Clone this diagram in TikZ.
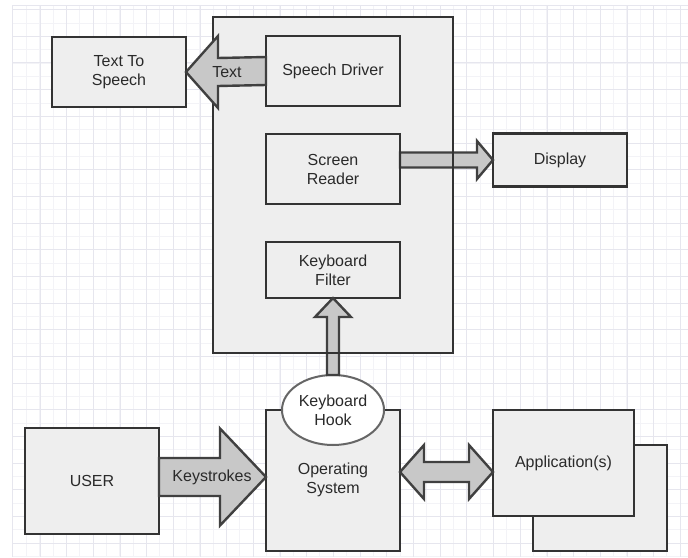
\documentclass[tikz,border=0pt]{standalone}
\usepackage{fontspec}
\setmainfont{Liberation Sans}
\usetikzlibrary{calc,shapes.geometric}
\definecolor{boxfill}{HTML}{EEEEEE}
\definecolor{boxline}{HTML}{333333}
\definecolor{arrfill}{HTML}{C8C8C8}
\definecolor{arrline}{HTML}{404040}
\definecolor{gridc}{HTML}{E6E6EE}
\definecolor{gridm}{HTML}{F3F3F7}
\definecolor{txt}{HTML}{2A2A2A}
\tikzset{
  blk/.style={draw=boxline, fill=boxfill, line width=2.6pt, rectangle, inner sep=0pt, outer sep=0pt,
    text=txt, align=center, font=\fontsize{16}{19}\selectfont},
  blkarrow/.style={draw=arrline, fill=arrfill, line width=2.4pt, line join=miter},
  lbl/.style={text=txt, font=\fontsize{16}{19}\selectfont, inner sep=0pt},
}
\begin{document}
\begin{tikzpicture}[x=1pt,y=-1pt]
\useasboundingbox (0,0) rectangle (688,557);
\fill[white] (0,0) rectangle (688,557);
% grid
\foreach \i in {0,...,50} {
  \pgfmathsetmacro\xx{26.3+\i*13.34}
  \ifdim \xx pt<688pt \draw[gridm, line width=0.6pt] (\xx,5) -- (\xx,557); \fi
  \pgfmathsetmacro\yy{22.85+\i*13.34}
  \ifdim \yy pt<557pt \draw[gridm, line width=0.6pt] (12,\yy) -- (688,\yy); \fi
}
\foreach \i in {0,...,25} {
  \pgfmathsetmacro\xx{40+\i*26.68}
  \ifdim \xx pt<688pt \draw[gridc, line width=0.8pt] (\xx,5) -- (\xx,557); \fi
  \pgfmathsetmacro\yy{9.5+\i*26.68}
  \ifdim \yy pt<557pt \draw[gridc, line width=0.8pt] (12,\yy) -- (688,\yy); \fi
}
\draw[gridc, line width=1pt] (12,557) -- (12,5) -- (688,5);

% container
\node[blk, minimum width=240, minimum height=336] (cont) at (333,185) {};
% inner boxes
\node[blk, minimum width=134, minimum height=70] (sd) at (333,71) {Speech Driver};
\node[blk, minimum width=134, minimum height=70] (sr) at (333,169) {Screen\\Reader};
\node[blk, minimum width=134, minimum height=56] (kf) at (333,270) {Keyboard\\Filter};
% outside boxes
\node[blk, minimum width=134, minimum height=70] (tts) at (119,72) {Text To\\Speech};
\node[blk, minimum width=134, minimum height=53] (disp) at (560,160) {Display};
\node[blk, minimum width=134, minimum height=106] (user) at (92,481) {USER};
\node[blk, minimum width=134, minimum height=141] (os) at (333,480.5) {};
\node[lbl, align=center] (ostext) at (333,480) {Operating\\System};
\node[blk, minimum width=134, minimum height=106] (appb) at (600,498) {};
\node[blk, minimum width=141, minimum height=106] (appf) at (563.5,463) {Application(s)};

% Screen reader -> Display arrow
\coordinate (srt) at (disp.west);
\draw[blkarrow] ($(sr.east|-srt)+(0,-7.5)$) -- ($(srt)+(-16,-7.5)$) -- ($(srt)+(-16,-19)$)
  -- (srt) -- ($(srt)+(-16,19)$) -- ($(srt)+(-16,7.5)$) -- ($(sr.east|-srt)+(0,7.5)$) -- cycle;

% Keyboard hook ellipse
\node[ellipse, draw=arrline!80, fill=white, line width=2pt, minimum width=102, minimum height=70,
  inner sep=0pt, outer sep=0pt, align=center, text=txt, font=\fontsize{16}{19}\selectfont] (hook) at (333,410) {Keyboard\\Hook};

% Hook -> Keyboard filter arrow
\draw[blkarrow] ($(hook.north)+(-6,0)$) -- ($(kf.south)+(-6,19)$) -- ($(kf.south)+(-18,19)$)
  -- (kf.south) -- ($(kf.south)+(18,19)$) -- ($(kf.south)+(6,19)$) -- ($(hook.north)+(6,0)$) -- cycle;

% container border on top of crossing arrows
\draw[boxline, line width=2.6pt] (cont.north west) rectangle (cont.south east);
\draw[boxline, line width=2.6pt] (sr.north west) rectangle (sr.south east);

% Speech driver -> Text to Speech arrow
\coordinate (tt) at (tts.east);
\draw[blkarrow] ($(sd.west)+(0,-14)$) -- ($(tt)+(32,-14)$) -- ($(tt)+(32,-36)$) -- (tt)
  -- ($(tt)+(32,36)$) -- ($(tt)+(32,14)$) -- ($(sd.west)+(0,14)$) -- cycle;
\node[lbl] (textlbl) at (227,72) {Text};

% USER -> OS keystrokes arrow
\coordinate (kt) at ($(os.west)+(0,-3.5)$);
\draw[blkarrow] ($(user.east|-kt)+(0,-19)$) -- ($(kt)+(-46,-19)$) -- ($(kt)+(-46,-48.5)$) -- (kt)
  -- ($(kt)+(-46,48.5)$) -- ($(kt)+(-46,19)$) -- ($(user.east|-kt)+(0,19)$) -- cycle;
\node[lbl] (keylbl) at (212,477) {Keystrokes};

% OS <-> Application double arrow
\coordinate (dl) at ($(os.east)+(0,-8.5)$);
\coordinate (dr) at (appf.west|-dl);
\draw[blkarrow] (dl) -- ($(dl)+(24,-27)$) -- ($(dl)+(24,-10)$) -- ($(dr)+(-24,-10)$) -- ($(dr)+(-24,-27)$)
  -- (dr) -- ($(dr)+(-24,27)$) -- ($(dr)+(-24,10)$) -- ($(dl)+(24,10)$) -- ($(dl)+(24,27)$) -- cycle;
\end{tikzpicture}
\end{document}
